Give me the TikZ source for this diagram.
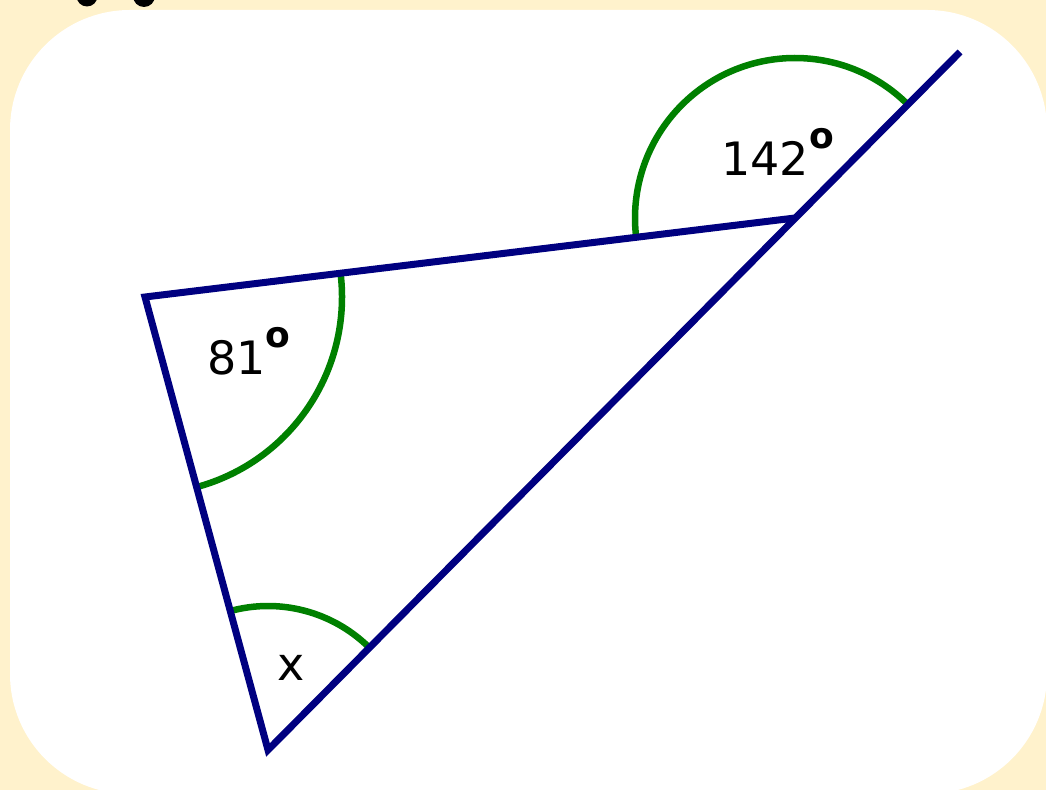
\documentclass[tikz,border=0pt]{standalone}
\usepackage{fontspec}
\setmainfont{DejaVu Sans}
\usetikzlibrary{angles}
\definecolor{cream}{HTML}{FFF2CC}
\definecolor{navyline}{HTML}{000080}
\definecolor{greenarc}{HTML}{008000}
\newcommand{\dego}{\raisebox{27pt}{\fontsize{36}{36}\selectfont\bfseries o}}
\begin{document}
\begin{tikzpicture}[x=1pt,y=1pt,
  edge/.style={draw=navyline,line width=7pt},
  marker/.style={draw=greenarc,line width=6.5pt},
  lbl/.style={inner sep=0pt,anchor=base west,font=\fontsize{46}{46}\selectfont}]
\useasboundingbox (0,0) rectangle (1046,790);
\clip (0,0) rectangle (1046,790);
\fill[cream] (0,0) rectangle (1046,790);
\fill[white,rounded corners=120pt] (10,-4) rectangle (1047,780);
% cut-off text fragments at the top
\fill[black] (87,794) circle (10.5);
\fill[black] (144,794) circle (11);
% vertices
\coordinate (A) at (145,493);
\coordinate (B) at (795,572);
\coordinate (C) at (268,40);
\coordinate (E) at (960,738);
% angle markers
\pic[marker,angle radius=197pt]{angle=C--A--B};
\pic[marker,angle radius=160pt]{angle=E--B--A};
\pic[marker,angle radius=144pt]{angle=B--C--A};
% triangle sides
\draw[edge] (B) -- (A) -- (C) -- (E);
% labels
\node[lbl] (l142) at (721,614) {142\dego};
\node[lbl] (l81) at (207,415) {81\dego};
\node[lbl] (lx) at (277,110) {x};
\end{tikzpicture}
\end{document}
